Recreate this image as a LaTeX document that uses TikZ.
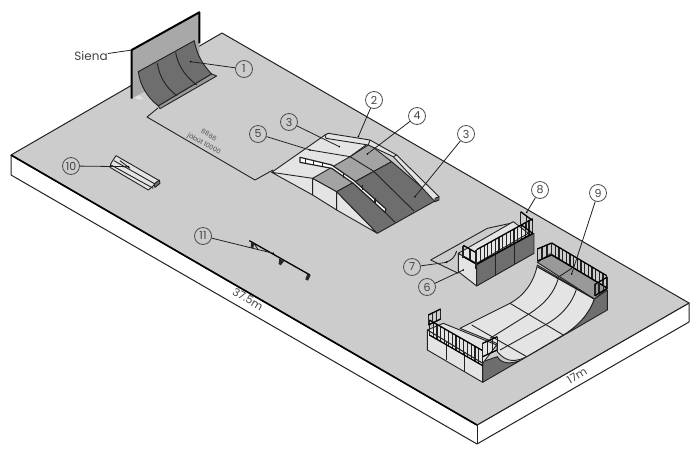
\documentclass[tikz,border=0pt]{standalone}
\usepackage{fontspec}
\setmainfont{Poppins}
\usetikzlibrary{calc}
\definecolor{floorgray}{HTML}{CCCCCC}
\definecolor{darkface}{HTML}{6E6E6E}
\definecolor{midface}{HTML}{999999}
\definecolor{lightface}{HTML}{E4E4E4}
\definecolor{wallgray}{HTML}{A8A8A8}
\definecolor{inkc}{HTML}{222222}
\tikzset{
  edge/.style={draw=inkc,line width=.9pt,line join=round},
  heavy/.style={draw=black,line width=1.7pt,line join=round},
  callout/.style={circle,draw=inkc!80,line width=.8pt,minimum size=17pt,inner sep=0pt,font=\fontsize{11}{12}\selectfont,text=inkc!85},
  leader/.style={draw=inkc,line width=.8pt},
  dim/.style={font=\fontsize{11}{12}\selectfont,text=inkc!85,inner sep=0pt},
  smalltext/.style={font=\fontsize{6.5}{7}\selectfont,text=inkc!80,inner sep=0pt},
  zoomA/.style={shift={(60,0)},x=.3333pt,y=-.3333pt},
  zoomB/.style={shift={(240,85)},x=.3333pt,y=-.3333pt},
  zoomC/.style={shift={(400,175)},x=.3333pt,y=-.3333pt},
  zoomD/.style={shift={(40,140)},x=.3333pt,y=-.3333pt},
}
\newcommand{\railing}[4]{% start, end, height, count
  \foreach \i in {0,...,#4}{
    \draw[inkc,line width=1.25pt] ($(#1)!\i/#4!(#2)$) -- ++(0,-#3);
  }
  \draw[black,line width=1.3pt] ($(#1)+(0,-#3)$) -- ($(#2)+(0,-#3)$);
  \draw[black,line width=1.3pt] (#1) -- (#2);
}
\begin{document}
\begin{tikzpicture}[x=1pt,y=-1pt]
\useasboundingbox (0,0) rectangle (700,453);
\fill[white] (0,0) rectangle (700,453);
% slab
\filldraw[edge,fill=white,line width=1pt] (11,155) -- (11,175) -- (477,444) -- (689,322) -- (689,303) -- (477,425) -- cycle;
\fill[floorgray] (11,155) -- (222,33) -- (689,303) -- (477,425) -- cycle;
\draw[heavy] (11,155) -- (477,425);
\draw[edge] (477,425) -- (477,444);
\draw[edge,line width=1pt] (477,425) -- (689,303) -- (222,33) -- (11,155);
% footprint lines
\draw[edge] (158,108) -- (147,117) -- (255,180) -- (273,170);
\node[smalltext,rotate=-30] (t8866) at (209,135) {8866};
\node[smalltext,rotate=-30] (tjobut) at (204,144) {jóbút 10000};
% wall and quarter pipe
\begin{scope}[zoomA]
\fill[wallgray] (215,150) -- (418,37) -- (418,190) -- (215,295) -- cycle;
\fill[lightface] (224,292) -- (238,286) -- (250,298) -- (232,298) -- cycle;
\draw[heavy,line width=2pt] (215,296) -- (215,150) -- (418,37) -- (418,130);
\filldraw[edge,fill=darkface] (235,215) -- (403,122) .. controls (412,170) and (430,195) .. (455,222) -- (295,318) .. controls (260,290) and (240,255) .. (235,215) -- cycle;
\filldraw[edge,fill=midface] (455,222) -- (470,228) -- (300,326) -- (295,318) -- cycle;
\draw[edge] (292,190) .. controls (298,230) and (318,262) .. (350,287);
\draw[edge] (347,157) .. controls (353,195) and (375,228) .. (410,255);
\coordinate (c1) at (392,185);
\end{scope}
% fun box
\begin{scope}[zoomB]
\fill[lightface] (95,262) -- (255,150) -- (385,165) -- (455,230) -- (290,320) -- (218,280) -- cycle;
\filldraw[edge,fill=lightface] (95,262) -- (218,280) -- (218,330) -- cycle;
\filldraw[edge,fill=lightface] (218,280) -- (290,320) -- (290,375) -- (218,330) -- cycle;
\filldraw[edge,fill=lightface] (290,320) -- (412,445) -- (290,375) -- cycle;
\filldraw[edge,fill=midface!90] (218,280) -- (330,215) -- (388,178) -- (455,230) -- (290,320) -- cycle;
\filldraw[edge,fill=darkface] (290,320) -- (455,230) -- (590,345) -- (412,445) -- cycle;
\draw[edge] (400,258) -- (522,378);
\draw[edge] (345,290) -- (465,412);
\draw[edge] (330,215) -- (400,258);
\draw[edge] (275,248) -- (345,290);
\draw[edge] (95,262) -- (255,150) -- (385,165);
\draw[edge] (210,195) -- (330,215);
\draw[edge] (330,215) -- (385,175);
% rail 2
\filldraw[edge,fill=lightface] (255,150) -- (265,145) -- (390,165) -- (470,210) -- (597,335) -- (585,350) -- (460,215) -- (385,180) -- (258,160) -- cycle;
\draw[edge] (390,165) -- (385,180);
\draw[edge] (470,210) -- (460,215);
\filldraw[edge,fill=darkface] (585,340) -- (597,335) -- (597,345) -- (585,350) -- cycle;
% rail 5
\filldraw[edge,fill=white,line width=1.2pt] (180,217) -- (275,240) -- (340,285) -- (438,372) -- (435,382) -- (340,295) -- (275,250) -- (180,232) -- cycle;
\draw[edge] (197,222) -- (197,236);
\draw[edge] (220,226) -- (220,240);
\draw[edge] (247,232) -- (247,246);
\draw[edge] (310,265) -- (310,278);
\draw[edge,line width=1.4pt] (368,300) -- (368,316);
\draw[edge,line width=1.4pt] (405,340) -- (405,355);
\coordinate (c2) at (355,155);
\coordinate (c3a) at (298,185);
\coordinate (c4) at (382,207);
\coordinate (c3b) at (525,335);
\coordinate (c5) at (210,195);
\end{scope}
% box 6-8 and half pipe
\begin{scope}[zoomC]
% box
\draw[edge] (92,255) -- (262,160) -- (345,142);
\draw[edge] (92,255) -- (175,295);
\draw[edge] (135,262) .. controls (155,258) and (165,245) .. (170,228);
\filldraw[edge,fill=lightface] (175,235) -- (175,290) -- (230,333) -- (230,265) -- cycle;
\filldraw[edge,fill=lightface] (175,235) -- (340,140) -- (385,175) -- (230,265) -- cycle;
\filldraw[edge,fill=darkface] (230,268) -- (402,175) -- (402,235) -- (230,333) -- cycle;
\draw[edge] (287,235) -- (287,300);
\draw[edge] (342,205) -- (342,268);
\railing{230,268}{398,175}{44}{15}
\railing{190,245}{230,268}{34}{2}
\railing{362,148}{398,175}{38}{2}
\draw[inkc,line width=1.8pt] (228,282) -- (228,224) (190,250) -- (190,212);
\coordinate (c6) at (190,285);
\coordinate (c7) at (140,262);
\coordinate (c8) at (380,112);
% half pipe
\filldraw[edge,fill=darkface] (248,622) -- (248,560) -- (292,545) .. controls (305,570) and (345,570) .. (380,545) -- (490,480) .. controls (540,450) and (570,410) .. (583,372) -- (622,345) -- (622,405) -- cycle;
\filldraw[edge,fill=lightface] (412,270) .. controls (402,320) and (375,360) .. (330,385) -- (180,460) -- (290,505) -- (292,530) .. controls (320,565) and (350,560) .. (380,545) -- (490,480) .. controls (540,450) and (570,410) .. (583,372) -- cycle;
\draw[edge] (330,385) -- (490,480);
\draw[edge] (215,450) -- (380,545);
\draw[edge] (475,310) .. controls (462,355) and (435,385) .. (390,415) -- (270,490);
\draw[edge] (530,340) .. controls (515,390) and (480,425) .. (435,450) -- (300,525);
\filldraw[edge,fill=midface] (412,262) -- (452,236) -- (622,340) -- (583,372) -- cycle;
\draw[edge] (515,280) -- (470,310);
\draw[edge,line width=1.3pt] (412,275) -- (583,372);
\filldraw[edge,fill=lightface] (82,465) -- (130,445) -- (290,510) -- (248,565) -- cycle;
\filldraw[edge,fill=lightface] (82,465) -- (248,565) -- (248,622) -- (82,525) -- cycle;
\draw[edge] (138,497) -- (138,555);
\draw[edge] (192,530) -- (192,590);
\railing{88,480}{248,572}{45}{14}
\railing{248,545}{292,525}{40}{3}
\railing{85,450}{122,432}{30}{3}
\railing{412,258}{455,240}{36}{3}
\railing{455,240}{620,338}{36}{15}
\railing{585,362}{622,340}{34}{3}
\coordinate (c9) at (515,297);
\end{scope}
% object 10
\begin{scope}[zoomD]
\filldraw[edge,fill=lightface] (228,47) -- (358,122) -- (325,150) -- (210,82) -- (213,70) -- cycle;
\draw[edge] (213,75) -- (340,145);
\draw[edge] (222,62) -- (345,132);
\draw[edge] (240,62) -- (270,85);
\filldraw[edge,fill=darkface] (342,132) -- (358,120) -- (360,130) -- (345,142) -- cycle;
\coordinate (c10) at (265,80);
% object 11
\draw[black,line width=1.3pt] (628,302) -- (810,405);
\draw[inkc,line width=.8pt] (640,308) -- (655,330);
\fill[black!85] (634,306) -- (642,312) -- (640,326) -- (632,322) -- cycle;
\fill[black!85] (718,356) -- (732,364) -- (722,376) -- (716,372) -- cycle;
\fill[black!85] (802,402) -- (812,406) -- (804,422) -- (796,418) -- cycle;
\coordinate (c11) at (700,340);
\end{scope}
% callouts
\node[callout] (n1) at (244,69) {1};
\node[callout] (n2) at (374,100) {2};
\node[callout] (n3a) at (289,122) {3};
\node[callout] (n4) at (417,116) {4};
\node[callout] (n3b) at (466,134) {3};
\node[callout] (n5) at (258,134) {5};
\node[callout] (n6) at (427,287) {6};
\node[callout] (n7) at (412,267) {7};
\node[callout] (n8) at (540,190) {8};
\node[callout] (n9) at (598,193) {9};
\node[callout] (n10) at (71,166) {10};
\node[callout] (n11) at (203,236) {11};
\foreach \a/\b in {n1/c1,n2/c2,n3a/c3a,n4/c4,n3b/c3b,n5/c5,n6/c6,n7/c7,n8/c8,n9/c9,n10/c10,n11/c11}{
  \draw[leader] (\a) -- (\b);
  \fill[black] (\b) circle (.9pt);
}
\node[dim,font=\fontsize{12}{13}\selectfont] (siena) at (91,56) {Siena};
\coordinate (wallcorner) at (132,50);
\draw[leader] (siena) -- (wallcorner);
\node[dim,rotate=-30] (d1) at (248,299) {37.5m};
\node[dim,rotate=30] (d2) at (577,376) {17m};
\end{tikzpicture}
\end{document}
